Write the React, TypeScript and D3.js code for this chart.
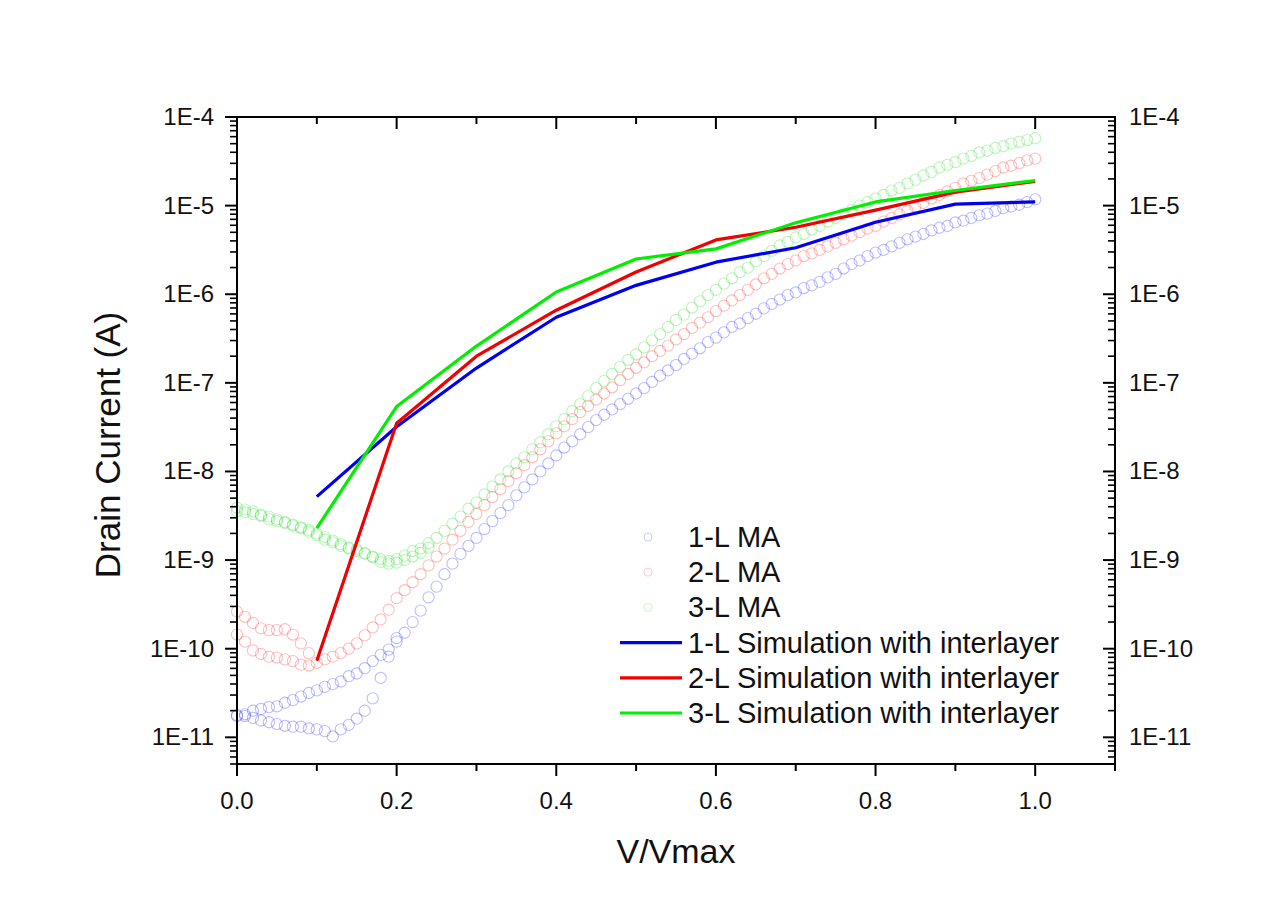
import React from "react";
import * as d3 from "d3";

// V/Vmax sampling of the measured (MA) curves, 0.00 .. 1.00 step 0.01
const vGrid = d3.range(0, 101).map((i) => i / 100);

// log10(Drain current / A)
const ma1Log = [
  -10.76, -10.74, -10.70, -10.68, -10.66, -10.65, -10.61, -10.58, -10.54, -10.50,
  -10.47, -10.43, -10.40, -10.37, -10.31, -10.28, -10.22, -10.14, -10.07, -10.01,
  -9.92, -9.82, -9.70, -9.57, -9.42, -9.30, -9.16, -9.04, -8.93, -8.84,
  -8.75, -8.65, -8.56, -8.47, -8.38, -8.27, -8.18, -8.09, -8.00, -7.91,
  -7.82, -7.73, -7.66, -7.58, -7.50, -7.42, -7.36, -7.30, -7.24, -7.18,
  -7.12, -7.06, -6.99, -6.92, -6.86, -6.80, -6.73, -6.67, -6.61, -6.54,
  -6.49, -6.43, -6.37, -6.33, -6.27, -6.22, -6.16, -6.11, -6.06, -6.01,
  -5.98, -5.93, -5.90, -5.86, -5.81, -5.77, -5.71, -5.66, -5.62, -5.57,
  -5.53, -5.50, -5.46, -5.42, -5.38, -5.35, -5.32, -5.28, -5.25, -5.23,
  -5.19, -5.17, -5.14, -5.11, -5.09, -5.06, -5.03, -5.01, -4.99, -4.96,
  -4.93,
];
// second (low-bias) branch of 1-L MA, V = 0.00 .. 0.20
const ma1LowLog = [
  -10.75, -10.76, -10.78, -10.81, -10.83, -10.85, -10.87, -10.88, -10.88, -10.90,
  -10.91, -10.93, -10.99, -10.91, -10.86, -10.79, -10.70, -10.56, -10.33, -10.09,
  -9.88,
];

const ma2Log = [
  -9.84, -9.92, -10.02, -10.06, -10.09, -10.10, -10.12, -10.14, -10.18, -10.19,
  -10.16, -10.12, -10.09, -10.05, -10.00, -9.94, -9.85, -9.76, -9.67, -9.56,
  -9.43, -9.34, -9.25, -9.16, -9.06, -8.96, -8.87, -8.77, -8.67, -8.57,
  -8.48, -8.38, -8.29, -8.20, -8.11, -8.02, -7.93, -7.84, -7.75, -7.66,
  -7.57, -7.49, -7.41, -7.33, -7.26, -7.19, -7.12, -7.05, -6.97, -6.90,
  -6.83, -6.77, -6.70, -6.64, -6.58, -6.51, -6.45, -6.38, -6.32, -6.26,
  -6.19, -6.13, -6.07, -6.01, -5.95, -5.89, -5.82, -5.77, -5.71, -5.66,
  -5.62, -5.57, -5.54, -5.50, -5.46, -5.42, -5.38, -5.34, -5.30, -5.26,
  -5.23, -5.18, -5.14, -5.10, -5.06, -5.01, -4.97, -4.92, -4.88, -4.84,
  -4.80, -4.75, -4.72, -4.69, -4.65, -4.61, -4.57, -4.55, -4.52, -4.49,
  -4.47,
];
// second (low-bias) branch of 2-L MA, V = 0.00 .. 0.09
const ma2LowLog = [-9.58, -9.64, -9.71, -9.77, -9.79, -9.79, -9.78, -9.84, -9.94, -10.05];

const ma3Log = [
  -8.41, -8.43, -8.45, -8.49, -8.51, -8.54, -8.58, -8.61, -8.63, -8.68,
  -8.72, -8.77, -8.80, -8.84, -8.86, -8.88, -8.92, -8.96, -8.99, -9.01,
  -8.99, -8.95, -8.90, -8.87, -8.81, -8.75, -8.67, -8.59, -8.51, -8.42,
  -8.35, -8.26, -8.17, -8.09, -8.00, -7.91, -7.84, -7.75, -7.67, -7.58,
  -7.49, -7.41, -7.32, -7.24, -7.15, -7.06, -6.98, -6.90, -6.82, -6.74,
  -6.68, -6.60, -6.52, -6.45, -6.37, -6.29, -6.23, -6.15, -6.08, -6.01,
  -5.95, -5.88, -5.82, -5.75, -5.70, -5.63, -5.57, -5.51, -5.45, -5.41,
  -5.36, -5.32, -5.27, -5.23, -5.18, -5.14, -5.09, -5.05, -5.00, -4.96,
  -4.92, -4.88, -4.83, -4.80, -4.75, -4.71, -4.66, -4.62, -4.57, -4.54,
  -4.51, -4.47, -4.44, -4.40, -4.38, -4.35, -4.33, -4.30, -4.28, -4.26,
  -4.24,
];
// second branch of 3-L MA, V = 0.00 .. 0.24
const ma3LowLog = [
  -8.45, -8.46, -8.48, -8.50, -8.54, -8.56, -8.57, -8.60, -8.64, -8.66,
  -8.70, -8.74, -8.78, -8.82, -8.87, -8.90, -8.93, -8.97, -9.02, -9.04,
  -9.03, -9.00, -8.96, -8.92, -8.86,
];

// Simulation with interlayer
const simV = [0.1, 0.2, 0.3, 0.4, 0.5, 0.6, 0.7, 0.8, 0.9, 1.0];
const sim1 = [5.2e-9, 3.2e-8, 1.47e-7, 5.5e-7, 1.26e-6, 2.3e-6, 3.35e-6, 6.5e-6, 1.04e-5, 1.1e-5];
const sim2 = [7.3e-11, 3.5e-8, 2.0e-7, 6.6e-7, 1.78e-6, 4.1e-6, 5.7e-6, 8.9e-6, 1.42e-5, 1.88e-5];
const sim3 = [2.3e-9, 5.4e-8, 2.6e-7, 1.06e-6, 2.5e-6, 3.25e-6, 6.4e-6, 1.1e-5, 1.48e-5, 1.92e-5];

const xMajorTicks = [0, 0.2, 0.4, 0.6, 0.8, 1.0];
const xMinorTicks = [0.1, 0.3, 0.5, 0.7, 0.9, 1.1];
const yMajorExp = [-4, -5, -6, -7, -8, -9, -10, -11];

const legendLabels = [
  "1-L MA",
  "2-L MA",
  "3-L MA",
  "1-L Simulation with interlayer",
  "2-L Simulation with interlayer",
  "3-L Simulation with interlayer",
];

const BLUE = "#0000f0";
const RED = "#f00000";
const GREEN = "#00ee00";

export default function App() {
  const W = 1279;
  const H = 904;
  const left = 237;
  const right = 1115;
  const top = 117;
  const bottom = 764;

  const x = d3.scaleLinear().domain([0, 1.1]).range([left, right]);
  const y = d3.scaleLog().domain([5e-12, 1e-4]).range([bottom, top]);

  const yMinor: number[] = [];
  for (let e = -12; e <= -5; e++) {
    for (let k = 2; k <= 9; k++) {
      const v = k * Math.pow(10, e);
      if (v >= 5e-12 && v <= 1e-4) yMinor.push(v);
    }
  }

  const toPts = (logs: number[]) => logs.map((l, i) => ({ v: vGrid[i], c: Math.pow(10, l) }));

  const maSeries = [
    { pts: [...toPts(ma1Log), ...toPts(ma1LowLog)], color: "rgb(40,40,255)" },
    { pts: [...toPts(ma2Log), ...toPts(ma2LowLog)], color: "rgb(255,40,40)" },
    { pts: [...toPts(ma3Log), ...toPts(ma3LowLog)], color: "rgb(30,220,30)" },
  ];

  const line = d3
    .line<number>()
    .x((_, i) => x(simV[i]))
    .y((d) => y(d));

  const simSeries = [
    { vals: sim1, color: BLUE },
    { vals: sim2, color: RED },
    { vals: sim3, color: GREEN },
  ];

  const font = "Liberation Sans, Arial, sans-serif";
  const tickFs = 24;
  const majLen = 12;
  const minLen = 7;

  const legendX = 620;
  const legendY0 = 537;
  const legendDy = 35.2;

  return (
    <svg
      width={W}
      height={H}
      style={{ position: "absolute", left: 0, top: 0, background: "#fff" }}
      fontFamily={font}
    >
      <rect x={0} y={0} width={W} height={H} fill="#ffffff" />

      {/* measured data: open circles */}
      {maSeries.map((s, si) => (
        <g key={si} fill="none" stroke={s.color} strokeOpacity={0.3} strokeWidth={1.1}>
          {s.pts.map((p, i) => (
            <circle key={i} cx={x(p.v)} cy={y(p.c)} r={5.6} />
          ))}
        </g>
      ))}

      {/* simulations */}
      {simSeries.map((s, si) => (
        <path
          key={si}
          d={line(s.vals) || ""}
          fill="none"
          stroke={s.color}
          strokeWidth={3.2}
          strokeLinejoin="round"
        />
      ))}

      {/* frame */}
      <rect x={left} y={top} width={right - left} height={bottom - top} fill="none" stroke="#000" strokeWidth={2} />

      {/* bottom axis ticks (outward) & top (inward) */}
      {xMajorTicks.map((t) => (
        <g key={"xM" + t}>
          <line x1={x(t)} x2={x(t)} y1={bottom} y2={bottom + majLen} stroke="#000" strokeWidth={2} />
          <line x1={x(t)} x2={x(t)} y1={top} y2={top + majLen} stroke="#000" strokeWidth={2} />
          <text x={x(t)} y={bottom + 45} textAnchor="middle" fontSize={tickFs} fill="#111">
            {d3.format(".1f")(t)}
          </text>
        </g>
      ))}
      {xMinorTicks.map((t) => (
        <g key={"xm" + t}>
          <line x1={x(t)} x2={x(t)} y1={bottom} y2={bottom + minLen} stroke="#000" strokeWidth={2} />
          <line x1={x(t)} x2={x(t)} y1={top} y2={top + minLen} stroke="#000" strokeWidth={2} />
        </g>
      ))}

      {/* left axis (outward) & right axis (inward) */}
      {yMajorExp.map((e) => {
        const v = Math.pow(10, e);
        return (
          <g key={"yM" + e}>
            <line x1={left - majLen} x2={left} y1={y(v)} y2={y(v)} stroke="#000" strokeWidth={2} />
            <line x1={right - majLen} x2={right} y1={y(v)} y2={y(v)} stroke="#000" strokeWidth={2} />
            <text x={left - 23} y={y(v) + 8} textAnchor="end" fontSize={tickFs} fill="#111">
              {`1E${e}`}
            </text>
            <text x={right + 14} y={y(v) + 8} textAnchor="start" fontSize={tickFs} fill="#111">
              {`1E${e}`}
            </text>
          </g>
        );
      })}
      {yMinor.map((v, i) => (
        <g key={"ym" + i}>
          <line x1={left - minLen} x2={left} y1={y(v)} y2={y(v)} stroke="#000" strokeWidth={1.6} />
          <line x1={right - minLen} x2={right} y1={y(v)} y2={y(v)} stroke="#000" strokeWidth={1.6} />
        </g>
      ))}

      {/* axis titles */}
      <text x={676} y={863} textAnchor="middle" fontSize={34} fill="#111">
        V/Vmax
      </text>
      <text
        transform={`translate(120,445) rotate(-90)`}
        textAnchor="middle"
        fontSize={35}
        fill="#111"
      >
        Drain Current (A)
      </text>

      {/* legend */}
      {legendLabels.map((lab, i) => {
        const cy = legendY0 + i * legendDy;
        const isMA = i < 3;
        const col = isMA ? maSeries[i].color : simSeries[i - 3].color;
        return (
          <g key={lab}>
            {isMA ? (
              <circle cx={legendX + 28} cy={cy} r={4} fill="none" stroke={col} strokeOpacity={0.25} />
            ) : (
              <line x1={legendX} x2={legendX + 62} y1={cy} y2={cy} stroke={col} strokeWidth={3.2} />
            )}
            <text x={legendX + 68} y={cy + 10} fontSize={29} fill="#111">
              {lab}
            </text>
          </g>
        );
      })}
    </svg>
  );
}
